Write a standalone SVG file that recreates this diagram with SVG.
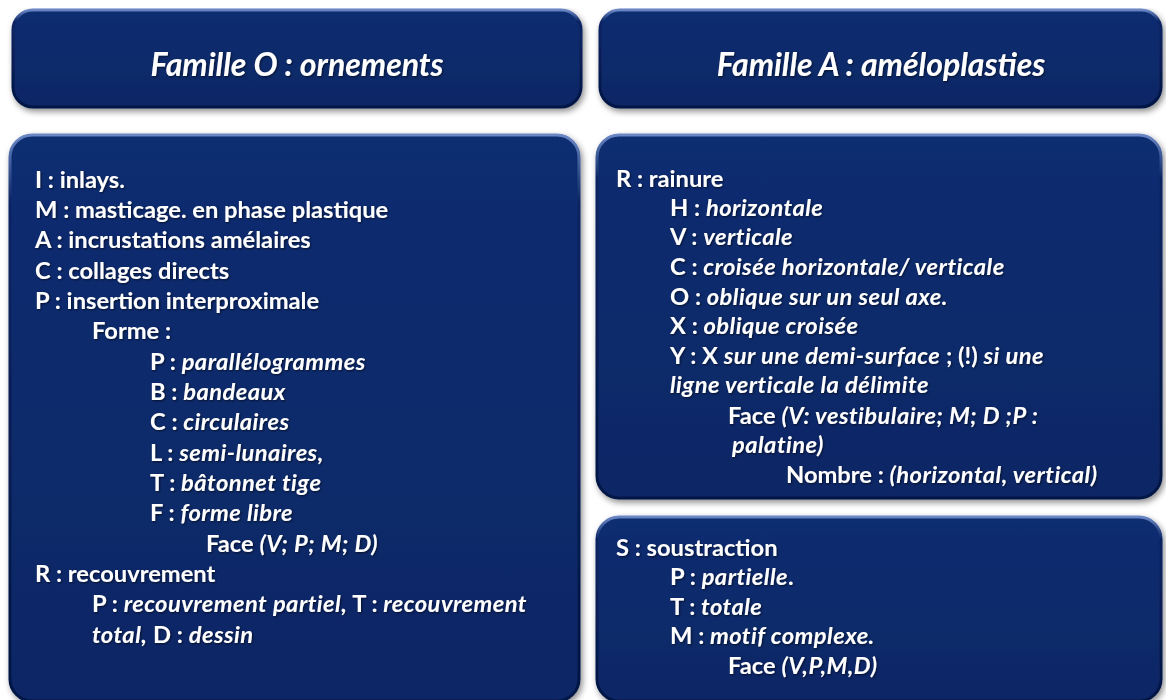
<svg xmlns="http://www.w3.org/2000/svg" width="1166" height="700" viewBox="0 0 1166 700">
<defs>
<linearGradient id="fillG" x1="0" y1="0" x2="0" y2="1">
<stop offset="0" stop-color="#0d2d70"/>
<stop offset="0.5" stop-color="#0b2a6b"/>
<stop offset="1" stop-color="#0a2765"/>
</linearGradient>
<linearGradient id="rimG" x1="0" y1="0" x2="0" y2="1">
<stop offset="0" stop-color="#6a86c4"/>
<stop offset="0.12" stop-color="#0a2462"/>
<stop offset="1" stop-color="#041645"/>
</linearGradient>
<filter id="sh" x="-5%" y="-5%" width="110%" height="115%">
<feGaussianBlur in="SourceAlpha" stdDeviation="3"/>
<feOffset dx="2" dy="3" result="b"/>
<feFlood flood-color="#000" flood-opacity="0.45"/>
<feComposite in2="b" operator="in"/>
<feMerge><feMergeNode/><feMergeNode in="SourceGraphic"/></feMerge>
</filter>
<filter id="ts" x="-5%" y="-20%" width="110%" height="140%">
<feGaussianBlur in="SourceAlpha" stdDeviation="1"/>
<feOffset dx="1" dy="1" result="b"/>
<feFlood flood-color="#000" flood-opacity="0.6"/>
<feComposite in2="b" operator="in"/>
<feMerge><feMergeNode/><feMergeNode in="SourceGraphic"/></feMerge>
</filter>
</defs>
<style>
.box{fill:url(#fillG);stroke:url(#rimG);stroke-width:3;filter:url(#sh)}
.title{font-family:Lato,"Open Sans","Liberation Sans",sans-serif;font-weight:bold;font-style:italic;font-size:32px;fill:#fff;text-anchor:middle;filter:url(#ts)}
.t{font-family:Lato,"Open Sans","Liberation Sans",sans-serif;font-weight:bold;font-size:23.7px;fill:#fff;filter:url(#ts)}
.i{font-style:italic;letter-spacing:0.45px}
</style>
<rect width="1166" height="700" fill="#ffffff"/>

<g id="famille-o">
<rect class="box" x="13" y="10" width="568" height="97" rx="20"/>
<text class="title" x="297" y="76">Famille O : ornements</text>
</g>

<g id="famille-a">
<rect class="box" x="600" y="10" width="561" height="97" rx="20"/>
<text class="title" x="881" y="76">Famille A : améloplasties</text>
</g>

<g id="ornements-liste">
<rect class="box" x="10" y="135" width="569" height="566" rx="22"/>
<text class="t" x="35" y="188">I : inlays.</text>
<text class="t" x="35" y="218">M : masticage. en phase plastique</text>
<text class="t" x="35" y="248">A : incrustations amélaires</text>
<text class="t" x="35" y="279">C : collages directs</text>
<text class="t" x="35" y="309">P : insertion interproximale</text>
<text class="t" x="92" y="339">Forme :</text>
<text class="t" x="150" y="370">P : <tspan class="i">parallélogrammes</tspan></text>
<text class="t" x="150" y="400">B : <tspan class="i">bandeaux</tspan></text>
<text class="t" x="150" y="430">C : <tspan class="i">circulaires</tspan></text>
<text class="t" x="150" y="461">L : <tspan class="i">semi-lunaires,</tspan></text>
<text class="t" x="150" y="491">T : <tspan class="i">bâtonnet tige</tspan></text>
<text class="t" x="150" y="521">F : <tspan class="i">forme libre</tspan></text>
<text class="t" x="206" y="552">Face <tspan class="i">(V; P; M; D)</tspan></text>
<text class="t" x="35" y="582">R : recouvrement</text>
<text class="t" x="92" y="612">P : <tspan class="i">recouvrement partiel,</tspan> T : <tspan class="i">recouvrement</tspan></text>
<text class="t" x="92" y="643"><tspan class="i">total,</tspan> D : <tspan class="i">dessin</tspan></text>
</g>

<g id="rainure">
<rect class="box" x="597" y="135" width="564" height="363" rx="22"/>
<text class="t" x="616" y="187">R : rainure</text>
<text class="t" x="670" y="216">H : <tspan class="i">horizontale</tspan></text>
<text class="t" x="670" y="245">V : <tspan class="i">verticale</tspan></text>
<text class="t" x="670" y="275">C : <tspan class="i">croisée horizontale/ verticale</tspan></text>
<text class="t" x="670" y="305">O : <tspan class="i">oblique  sur un seul axe.</tspan></text>
<text class="t" x="670" y="334">X : <tspan class="i">oblique  croisée</tspan></text>
<text class="t" x="670" y="364">Y : X <tspan class="i">sur une demi-surface</tspan> ; (!) <tspan class="i">si une</tspan></text>
<text class="t" x="670" y="393"><tspan class="i">ligne verticale  la délimite</tspan></text>
<text class="t" x="728" y="424">Face <tspan class="i">(V: vestibulaire; M; D ;P :</tspan></text>
<text class="t" x="732" y="453"><tspan class="i">palatine)</tspan></text>
<text class="t" x="786" y="483">Nombre : <tspan class="i">(horizontal, vertical)</tspan></text>
</g>

<g id="soustraction">
<rect class="box" x="597" y="517" width="564" height="184" rx="22"/>
<text class="t" x="616" y="556">S : soustraction</text>
<text class="t" x="670" y="585">P : <tspan class="i">partielle</tspan>.</text>
<text class="t" x="670" y="615">T : <tspan class="i">totale</tspan></text>
<text class="t" x="670" y="644">M : <tspan class="i">motif complexe.</tspan></text>
<text class="t" x="728" y="674">Face <tspan class="i">(V,P,M,D)</tspan></text>
</g>

<g id="connectors"/>
</svg>
